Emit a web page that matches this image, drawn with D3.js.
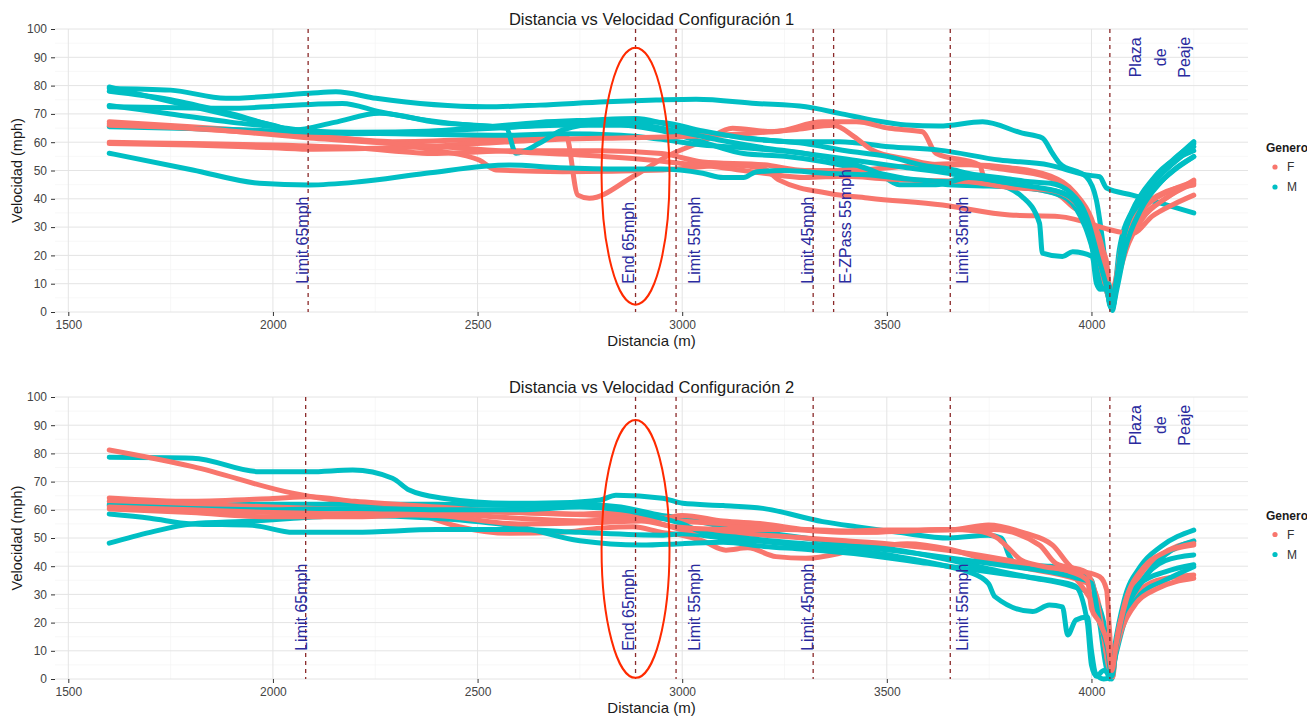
<!DOCTYPE html>
<html lang="es">
<head>
<meta charset="UTF-8">
<title>Distancia vs Velocidad</title>
<script src="https://d3js.org/d3.v7.min.js"></script>
<style>
  body { margin: 0; background: #fff; }
  svg { font-family: "Liberation Sans", Arial, sans-serif; }
  .grid-major { stroke: #e4e4e4; stroke-width: 1; }
  .grid-minor { stroke: #f3f3f3; stroke-width: 0.7; }
  .tick-lbl { fill: #444; font-size: 12px; }
  .tramo { fill: none; stroke-width: 5; stroke-linecap: round; stroke-linejoin: round; }
  .marca { stroke: #8b2a2a; stroke-width: 1.3; stroke-dasharray: 4 4; }
  .marca-lbl { fill: #2a2a9e; font-size: 16px; }
</style>
</head>
<body>
<svg id="chart" width="1307" height="717"></svg>
<script>
// ---- datos ----
const generos = ["F", "M"];
const xTicks = [1500, 2000, 2500, 3000, 3500, 4000];
const xMinor = [1750, 2250, 2750, 3250, 3750, 4250];
const yTicks = [0, 10, 20, 30, 40, 50, 60, 70, 80, 90, 100];
const yMinor = [5, 15, 25, 35, 45, 55, 65, 75, 85, 95];

// Configuración 1 - mujeres
const c1F1 = [[1600,67.2],[1800,65.5],[2000,63.5],[2089,62.5],[2292,60.2],[2500,61],[2716,62.5],[2745,41.3],[2773,40.2],[2879,47.8],[2961,54.9],[3058,60.8],[3123,64.9],[3221,63.7],[3343,67.2],[3425,67.2],[3506,64.9],[3587,63.7],[3620,56.1],[3726,52],[3742,46],[3913,41.9],[3954,37.2],[4000,32],[4030,20],[4046,4],[4056,8],[4080,22],[4120,33],[4180,40],[4250,46.6]];
const c1F2 = [[1600,66.5],[1800,64.8],[2000,63],[2200,61],[2400,57],[2504,53.7],[2545,50.2],[2708,49.6],[2952,50.2],[3115,51.9],[3197,50.8],[3237,46.6],[3360,41.9],[3458,40.2],[3636,37.8],[3800,34.3],[3922,33.7],[4100,27.8],[4150,34],[4200,38],[4250,41.3]];
const c1F3 = [[1600,60],[1800,59.5],[2000,59],[2200,58],[2400,56],[2600,57],[2800,57],[2950,56],[3050,53],[3200,52],[3300,50],[3433,50.2],[3550,51.5],[3677,52.5],[3780,50.5],[3889,47.8],[3938,44.3],[3970,37.2],[4002,27.8],[4036,18.4],[4048,5],[4058,10],[4090,28],[4130,37],[4180,42],[4250,46]];
const c1F4 = [[1600,59.5],[1800,59],[2000,58],[2100,57.5],[2300,58],[2500,59.5],[2700,61],[2850,61.5],[3000,62],[3150,63],[3280,64.5],[3370,66],[3420,62],[3465,57.2],[3550,54],[3628,52],[3700,52],[3800,51],[3900,48],[3960,42],[4000,33],[4030,18],[4045,6],[4055,9],[4075,24],[4110,34],[4160,41],[4250,44.9]];
const c1F5 = [[1600,66],[1850,64.5],[2089,61.5],[2300,59.5],[2450,58],[2600,56.5],[2750,55.5],[2900,54],[3000,52.5],[3100,51],[3200,49],[3300,47.5],[3400,48],[3500,47],[3600,46.5],[3700,46],[3800,44],[3900,43],[3950,40],[3990,32],[4020,18],[4040,6],[4050,2],[4062,10],[4085,22],[4125,33],[4180,40],[4250,45.5]];

// Configuración 1 - hombres
const c1M1 = [[1600,79],[1750,78.4],[1885,75.5],[2089,77.3],[2154,77.8],[2252,75.5],[2521,72.5],[2651,73.1],[2814,74.3],[2936,74.9],[3034,75.2],[3180,73.7],[3302,72.5],[3384,70.2],[3465,67.8],[3547,66.1],[3628,65.7],[3734,67.2],[3831,63.2],[3880,61.5],[3905,56],[3922,52.6],[3988,47.7],[4012,39.6],[4027,25.4],[4044,4.2],[4050,1],[4056,6],[4068,21.9],[4100,36],[4149,45.6],[4250,60.2]];
const c1M2 = [[1600,78],[1750,75],[1900,70],[2050,64.3],[2200,63],[2350,63.5],[2529,65.5],[2650,67],[2773,67.8],[2887,68.4],[2952,66.7],[3018,64.3],[3140,61.9],[3262,60.2],[3384,60.2],[3506,58.4],[3628,57.2],[3775,53.7],[3897,51.9],[3988,48.4],[4020,47.8],[4037,43.8],[4100,41.3],[4250,35]];
const c1M3 = [[1600,72.5],[1885,72],[2170,73.7],[2260,70.8],[2374,67.8],[2578,65.5],[2700,66],[2850,66],[2950,64],[3050,60],[3150,56],[3250,55],[3350,53],[3450,50],[3550,47],[3650,45],[3750,44.5],[3850,44],[3930,42],[3975,35],[4000,25],[4025,15],[4040,8],[4052,0.5],[4060,10],[4078,26],[4110,38],[4160,47],[4250,58.4]];
const c1M4 = [[1600,65.5],[1900,64.5],[2100,63.5],[2300,63],[2578,62.5],[2700,63],[2850,62.5],[2950,61],[3050,59],[3150,58],[3300,56],[3450,53],[3550,51],[3650,49],[3750,46],[3831,40.7],[3873,31.4],[3880,20.8],[3929,19.6],[3954,21.3],[4002,19.6],[4012,10.2],[4022,8],[4036,9],[4046,2],[4056,6],[4072,22],[4105,35],[4155,44],[4250,54.9]];
const c1M5 = [[1600,79.5],[1700,76],[1850,71],[2000,66],[2050,64.3],[2150,67],[2260,70.2],[2400,67],[2570,64.9],[2594,56.1],[2651,59.6],[2707,64.3],[2800,66.5],[2900,66],[3000,63.5],[3100,60.5],[3200,58],[3300,56],[3400,53],[3480,49],[3530,45],[3620,45],[3700,48],[3760,47],[3830,44],[3880,43],[3940,40],[3985,30],[4020,14],[4040,6],[4050,1],[4060,8],[4075,24],[4105,37],[4150,47],[4250,57]];
const c1M6 = [[1600,56.1],[1804,50.2],[1967,45.5],[2089,44.9],[2211,46],[2374,49],[2578,51.9],[2700,51],[2850,50.5],[2950,50.5],[3050,49],[3100,47.5],[3150,47.5],[3180,49.5],[3250,50],[3350,49],[3450,48.5],[3550,47],[3650,46],[3700,47.5],[3760,46.5],[3820,45],[3870,44],[3930,42],[3965,38],[3995,28],[4015,12],[4030,8],[4042,10],[4052,2],[4062,8],[4082,22],[4120,36],[4170,46],[4250,54.9]];
const c1M7 = [[1600,73],[1750,70],[1900,67],[2000,65.5],[2089,64],[2200,63.5],[2400,64],[2550,65],[2700,66.5],[2850,67.5],[2950,67],[3050,64],[3150,61.5],[3300,59.5],[3400,57],[3500,55],[3600,51.5],[3653,50.5],[3700,49],[3800,47],[3850,46],[3900,45.5],[3950,42],[3990,33],[4015,20],[4035,10],[4048,2],[4058,9],[4076,25],[4110,38],[4160,48],[4250,59.5]];

// Configuración 2 - mujeres
const c2F1 = [[1600,81.2],[1804,75.3],[2048,65.9],[2170,62.9],[2292,61.1],[2374,57.6],[2455,54],[2578,51.7],[2700,52],[2800,53.5],[2880,54],[2950,52],[3000,51],[3050,49],[3107,45.7],[3160,46.5],[3229,43.4],[3302,42.8],[3425,45.7],[3550,48],[3653,46],[3750,42],[3850,39],[3950,36],[4000,33],[4020,25],[4035,10],[4045,3],[4055,8],[4075,20],[4110,30],[4160,35],[4250,36.9]];
const c2F2 = [[1600,64.2],[1800,63],[2000,64],[2089,64.6],[2200,63],[2400,61],[2600,59],[2800,58],[2950,57],[3000,56],[3100,55],[3200,53.5],[3300,53],[3400,52.5],[3500,52.8],[3653,52.8],[3748,54.6],[3838,51.7],[3905,47.5],[3954,39.3],[4020,36.3],[4037,31.6],[4044,17.4],[4052,0.8],[4060,12],[4080,25],[4120,37],[4170,44],[4250,48.7]];
const c2F3 = [[1600,63],[1800,62],[2000,61],[2200,60],[2400,59.5],[2600,59],[2750,58.5],[2850,59],[2950,57],[3000,58],[3100,56],[3200,55],[3300,53],[3450,52],[3550,52.5],[3650,53],[3760,53],[3873,47.5],[3913,41],[3986,38],[4010,30],[4030,15],[4048,2],[4058,10],[4080,26],[4120,38],[4170,44],[4250,47.5]];
const c2F4 = [[1600,60.3],[1800,59],[2000,57.5],[2200,57.5],[2400,58.5],[2600,57],[2750,56],[2880,57],[2950,55],[3000,53],[3100,52],[3200,51],[3300,50],[3400,49],[3500,48],[3600,46.5],[3700,44.5],[3800,42],[3900,39],[3950,37],[3990,30],[4010,25],[4030,15],[4045,4],[4055,8],[4075,18],[4110,27],[4160,32],[4250,35.7]];
const c2F5 = [[1600,61],[1800,60],[2000,59],[2200,58.5],[2400,58],[2600,55],[2800,55.5],[2900,56],[2980,54],[3100,53],[3250,53],[3400,52],[3550,52.5],[3650,53],[3720,52.5],[3770,50],[3800,46],[3830,42],[3880,40],[3950,38],[3990,35],[4000,25],[4020,20],[4040,12],[4050,3],[4060,12],[4085,28],[4130,40],[4180,45],[4250,48]];

// Configuración 2 - hombres
const c2M1 = [[1600,78.6],[1804,78.3],[1967,73.5],[2089,73.5],[2195,74.1],[2292,71.2],[2333,67],[2415,64.1],[2578,62.3],[2700,62.5],[2800,63.5],[2838,65.2],[2952,64.1],[3001,62.3],[3100,61.5],[3197,60.5],[3343,55.8],[3425,54],[3528,52],[3653,50],[3748,51],[3780,50],[3800,43.4],[3816,40.4],[3900,40],[3960,38],[4000,35],[4020,20],[4035,5],[4045,0],[4055,10],[4080,28],[4120,40],[4170,47],[4250,52.8]];
const c2M2 = [[1600,62],[1800,61.5],[2000,62],[2200,62],[2400,62],[2600,61.5],[2750,62],[2850,61],[2950,58],[3000,57],[3100,54],[3200,52],[3300,50],[3400,48],[3528,45.7],[3653,42.2],[3750,39],[3850,36],[3950,33],[4000,30],[4030,20],[4040,5],[4050,0],[4058,8],[4080,22],[4120,34],[4180,42],[4250,44]];
const c2M3 = [[1600,58.5],[1700,57],[1800,55],[1950,54.5],[2050,52],[2200,52],[2400,53],[2600,53],[2750,52],[2950,51],[3000,51.5],[3100,50],[3250,48],[3350,46],[3450,45],[3528,43.4],[3653,39.8],[3700,38],[3748,33.9],[3764,29.2],[3856,23.9],[3897,26.2],[3929,25.6],[3942,15.6],[3962,20.9],[3990,22],[4000,10],[4010,2],[4030,0],[4045,0.5],[4055,6],[4080,20],[4120,30],[4180,35],[4250,39.8]];
const c2M4 = [[1600,48.2],[1700,52],[1800,55],[1950,56],[2050,57],[2200,58],[2400,57],[2600,54],[2750,49],[2900,47.5],[3000,48],[3100,48.5],[3200,47],[3300,46],[3450,44],[3600,41],[3700,39],[3800,37],[3900,35],[3960,33],[3990,20],[4000,5],[4012,1],[4030,3],[4050,1],[4060,10],[4085,25],[4130,36],[4180,44],[4250,49]];
const c2M5 = [[1600,61.5],[1800,60.5],[2000,60],[2200,60.5],[2400,60],[2600,60],[2750,61],[2850,60],[2950,57],[3000,55],[3050,52],[3150,50],[3300,48],[3450,46.5],[3600,44],[3700,42],[3800,40],[3900,38],[3960,36],[4000,34],[4020,20],[4040,10],[4048,2],[4058,10],[4080,24],[4120,34],[4180,38],[4250,40.5]];

// marcas de la vía: x = posición de la línea, tx = posición del texto
const marcas1 = [
  { label: "Limit 65mph", x: 2086, tx: 2071 },
  { label: "End 65mph", x: 2886, tx: 2868 },
  { label: "Limit 55mph", x: 2985, tx: 3031 },
  { label: "Limit 45mph", x: 3320, tx: 3305 },
  { label: "E-ZPass 55mph", x: 3370, tx: 3398 },
  { label: "Limit 35mph", x: 3655, tx: 3684 }
];
const marcas2 = [
  { label: "Limit 65mph", x: 2080, tx: 2069 },
  { label: "End 65mph", x: 2886, tx: 2868 },
  { label: "Limit 55mph", x: 2985, tx: 3031 },
  { label: "Limit 45mph", x: 3320, tx: 3305 },
  { label: "Limit 55mph", x: 3655, tx: 3684 }
];
const plaza = { x: 4045, tx: 4158, ty: 90, lines: ["Plaza", "de", "Peaje"] };
const elipse = [{ x: 2886, y: 48, dx: 83, dy: 45.4 }, { x: 2886, y: 46.1, dx: 83, dy: 45.7 }];

const paneles = [
  {
    titulo: "Distancia vs Velocidad Configuración 1",
    series: [
      { g: "M", d: c1M1 }, { g: "F", d: c1F1 }, { g: "M", d: c1M2 }, { g: "F", d: c1F2 },
      { g: "M", d: c1M3 }, { g: "F", d: c1F3 }, { g: "M", d: c1M4 }, { g: "F", d: c1F4 },
      { g: "M", d: c1M5 }, { g: "F", d: c1F5 }, { g: "M", d: c1M6 }, { g: "M", d: c1M7 }
    ],
    marcas: marcas1, elipse: elipse[0], top: 29, bottom: 312
  },
  {
    titulo: "Distancia vs Velocidad Configuración 2",
    series: [
      { g: "M", d: c2M1 }, { g: "F", d: c2F1 }, { g: "M", d: c2M2 }, { g: "F", d: c2F2 },
      { g: "M", d: c2M3 }, { g: "F", d: c2F3 }, { g: "M", d: c2M4 }, { g: "F", d: c2F4 },
      { g: "M", d: c2M5 }, { g: "F", d: c2F5 }
    ],
    marcas: marcas2, elipse: elipse[1], top: 397, bottom: 679
  }
];

// ---- dibujo ----
const svg = d3.select("#chart");
const left = 55, right = 1248;
const color = d3.scaleOrdinal().domain(generos).range(["#F8766D", "#00BFC4"]);
const x = d3.scaleLinear().domain([1467.5, 4382.5]).range([left, right]);

paneles.forEach((p) => {
  const y = d3.scaleLinear().domain([0, 100]).range([p.bottom, p.top]);
  const g = svg.append("g");

  // rejilla
  g.selectAll(".gx2").data(xMinor.filter(v => x(v) <= right)).join("line")
    .attr("class", "grid-minor")
    .attr("x1", d => x(d)).attr("x2", d => x(d)).attr("y1", p.top).attr("y2", p.bottom);
  g.selectAll(".gy2").data(yMinor).join("line")
    .attr("class", "grid-minor")
    .attr("x1", left).attr("x2", right).attr("y1", d => y(d)).attr("y2", d => y(d));
  g.selectAll(".gx").data(xTicks).join("line")
    .attr("class", "grid-major")
    .attr("x1", d => x(d)).attr("x2", d => x(d)).attr("y1", p.top).attr("y2", p.bottom);
  g.selectAll(".gy").data(yTicks).join("line")
    .attr("class", "grid-major")
    .attr("x1", left).attr("x2", right).attr("y1", d => y(d)).attr("y2", d => y(d));

  // ejes
  const ax = g.append("g").attr("transform", `translate(0,${p.bottom})`)
    .call(d3.axisBottom(x).tickValues(xTicks).tickFormat(d3.format("d")).tickSize(4).tickPadding(4));
  const ay = g.append("g").attr("transform", `translate(${left},0)`)
    .call(d3.axisLeft(y).tickValues(yTicks).tickFormat(d3.format("d")).tickSize(4).tickPadding(4));
  [ax, ay].forEach(a => {
    a.select(".domain").remove();
    a.selectAll(".tick line").attr("stroke", "#333");
    a.selectAll(".tick text").attr("class", "tick-lbl").attr("font-family", null).attr("font-size", null);
  });

  // títulos
  g.append("text").attr("x", (left + right) / 2).attr("y", p.top - 4)
    .attr("text-anchor", "middle").attr("font-size", 16.5).attr("fill", "#1a1a1a").text(p.titulo);
  g.append("text").attr("x", (left + right) / 2).attr("y", p.bottom + 34)
    .attr("text-anchor", "middle").attr("font-size", 15).attr("fill", "#1a1a1a").text("Distancia (m)");
  g.append("text")
    .attr("transform", `translate(22,${(p.top + p.bottom) / 2}) rotate(-90)`)
    .attr("text-anchor", "middle").attr("font-size", 14.5).attr("fill", "#1a1a1a").text("Velocidad (mph)");

  // trayectorias
  const linea = d3.line().x(d => x(d[0])).y(d => y(d[1])).curve(d3.curveMonotoneX);
  g.selectAll(".tramo").data(p.series).join("path")
    .attr("class", "tramo")
    .attr("stroke", d => color(d.g))
    .attr("d", d => linea(d.d));

  // marcas verticales
  const todas = p.marcas.concat([{ x: plaza.x }]);
  g.selectAll(".marca").data(todas).join("line")
    .attr("class", "marca")
    .attr("x1", d => x(d.x)).attr("x2", d => x(d.x))
    .attr("y1", p.top).attr("y2", p.bottom);
  g.selectAll(".marca-lbl").data(p.marcas).join("text")
    .attr("class", "marca-lbl")
    .attr("transform", d => `translate(${x(d.tx)},${y(10)}) rotate(-90)`)
    .attr("dy", "0.35em")
    .text(d => d.label);
  const pl = g.append("text").attr("class", "marca-lbl")
    .attr("transform", `translate(${x(plaza.tx)},${y(plaza.ty)}) rotate(-90)`)
    .attr("text-anchor", "middle").attr("dominant-baseline", "middle");
  pl.selectAll("tspan").data(plaza.lines).join("tspan")
    .attr("x", 0).attr("dy", (d, i) => i === 0 ? "-1.18em" : "1.53em")
    .text(d => d);

  // elipse roja
  const e = p.elipse;
  g.append("ellipse")
    .attr("cx", x(e.x)).attr("cy", y(e.y))
    .attr("rx", x(e.x + e.dx) - x(e.x)).attr("ry", y(e.y - e.dy) - y(e.y))
    .attr("fill", "none").attr("stroke", "#ff2a00").attr("stroke-width", 2);

  // leyenda
  const mid = (p.top + p.bottom) / 2;
  const lg = g.append("g").attr("transform", `translate(1266,${mid - 18.5})`);
  lg.append("text").attr("x", 0).attr("y", 0).attr("font-size", 12).attr("font-weight", "bold")
    .attr("fill", "#1a1a1a").text("Genero");
  lg.selectAll(".key").data(generos).join("g")
    .attr("transform", (d, i) => `translate(0,${15 + i * 20})`)
    .each(function (d) {
      const k = d3.select(this);
      k.append("circle").attr("cx", 9).attr("cy", 0).attr("r", 2.6).attr("fill", color(d));
      k.append("text").attr("x", 21).attr("y", 0).attr("dy", "0.35em")
        .attr("font-size", 12).attr("fill", "#333").text(d);
    });
});
</script>
</body>
</html>
